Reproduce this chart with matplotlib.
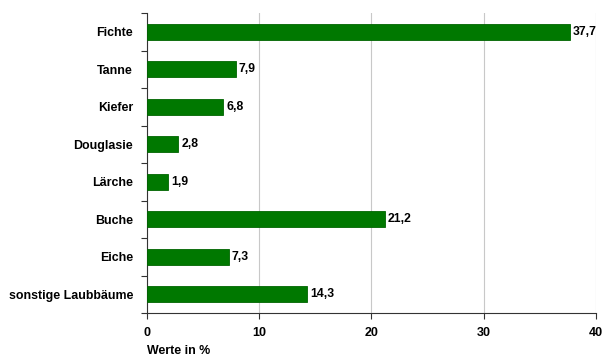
import matplotlib
matplotlib.use("Agg")
import matplotlib.pyplot as plt
import numpy as np

# ---------------------------------------------------------------------------
# Data
# ---------------------------------------------------------------------------
categories = ["Fichte", "Tanne", "Kiefer", "Douglasie", "Lärche",
              "Buche", "Eiche", "sonstige Laubbäume"]
values = [37.7, 7.9, 6.8, 2.8, 1.9, 21.2, 7.3, 14.3]
x_ticks = [0, 10, 20, 30, 40]

plt.rcParams["font.family"] = ["Liberation Sans", "DejaVu Sans"]

fig = plt.figure(figsize=(6.12, 3.64), dpi=100)
ax = fig.add_axes([0.240, 0.140, 0.734, 0.824])

pos = np.arange(len(categories))
ax.barh(pos, values, height=0.42, color="#007800", edgecolor="#006400",
        linewidth=0.6, zorder=3)

for p, v in zip(pos, values):
    ax.text(v + 0.25, p, f"{v:.1f}".replace(".", ","), va="center", ha="left",
            fontsize=8.8, fontweight="bold", zorder=4)

ax.set_ylim(len(categories) - 0.5, -0.5)
ax.set_xlim(0, 40)
ax.set_xticks(x_ticks)
ax.set_xticklabels([str(t) for t in x_ticks], fontsize=9, fontweight="bold")
ax.set_yticks(pos)
ax.set_yticklabels(categories, fontsize=8.9, fontweight="bold")
ax.tick_params(axis="y", length=0, pad=10)
ax.set_yticks(np.arange(len(categories) + 1) - 0.5, minor=True)
ax.tick_params(axis="y", which="minor", length=4, width=0.8, color="#333333")
ax.tick_params(axis="x", length=4, width=0.8, color="#333333", pad=6)

ax.grid(axis="x", color="#c8c8c8", linewidth=0.8, zorder=0)
for s in ["top", "right"]:
    ax.spines[s].set_visible(False)
for s in ["left", "bottom"]:
    ax.spines[s].set_color("#333333")
    ax.spines[s].set_linewidth(0.8)

fig.text(147 / 612, 1 - 357 / 364, "Werte in %", fontsize=8.9,
         fontweight="bold", ha="left", va="bottom")

fig.savefig("out.png", dpi=100)
